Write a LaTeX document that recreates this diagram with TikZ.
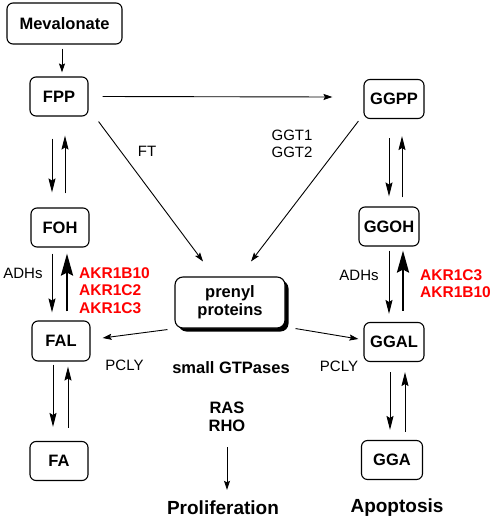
\documentclass[tikz,border=0pt]{standalone}
\usepackage{fontspec}
\setmainfont{Liberation Sans}
\usetikzlibrary{arrows.meta,shadows}
\begin{document}
\begin{tikzpicture}[x=1pt,y=-1pt,
  box/.style={draw, fill=white, rounded corners=6pt, line width=1.1pt,
    font=\fontsize{16.5}{18}\selectfont\bfseries, inner sep=0pt, minimum height=39pt},
  arr/.style={-{Stealth[length=9pt,width=6pt,inset=1.5pt]}, line width=0.9pt},
  parr/.style={-{Stealth[length=14pt,width=7pt,inset=2pt]}, line width=1pt},
  bigarr/.style={-{Stealth[length=22pt,width=12pt,inset=3pt]}, line width=2.6pt},
  lab/.style={font=\fontsize{15}{17}\selectfont, inner sep=0pt, align=center},
  akr/.style={font=\fontsize{15.5}{17.5}\selectfont\bfseries, text=red, inner sep=0pt, align=left},
  bold/.style={font=\fontsize{16.5}{18}\selectfont\bfseries, inner sep=0pt, align=center},
  outcome/.style={font=\fontsize{19}{20}\selectfont\bfseries, inner sep=0pt}
]
\useasboundingbox (0,0) rectangle (491,522);

% boxes
\node[box, minimum width=115pt, minimum height=41pt] (mev) at (64.5,23.5) {Mevalonate};
\node[box, minimum width=58pt] (fpp) at (59,96.5) {FPP};
\node[box, minimum width=58pt] (foh) at (60,227.5) {FOH};
\node[box, minimum width=58pt, minimum height=40pt] (fal) at (61,341) {FAL};
\node[box, minimum width=58pt] (fa) at (59,461) {FA};
\node[box, minimum width=60pt] (ggpp) at (394,99) {GGPP};
\node[box, minimum width=60pt] (ggoh) at (389,226.5) {GGOH};
\node[box, minimum width=60pt] (ggal) at (394,342) {GGAL};
\node[box, minimum width=61pt] (gga) at (392,460) {GGA};
\node[box, rounded corners=8pt, minimum width=110pt, minimum height=51pt, align=center,
  drop shadow={shadow xshift=3.5pt, shadow yshift=-3.5pt, fill=black, opacity=1}]
  (pp) at (230,302.5) {prenyl\\proteins};

% text labels
\node[lab] (ft) at (147,151) {FT};
\node[lab] (ggt) at (292,143.5) {GGT1\\GGT2};
\node[lab] (adhl) at (23,273) {ADHs};
\node[lab] (adhr) at (359,275) {ADHs};
\node[akr, anchor=west] (akrl) at (79,290.5) {AKR1B10\\AKR1C2\\AKR1C3};
\node[akr, anchor=west] (akrr) at (420,283.5) {AKR1C3\\AKR1B10};
\node[lab] (pclyl) at (124.5,365) {PCLY};
\node[lab] (pclyr) at (339,366) {PCLY};
\node[bold] (gtp) at (231,368) {small GTPases};
\node[bold] (ras) at (227,417) {RAS\\RHO};
\node[outcome] (prolif) at (223,508) {Proliferation};
\node[outcome] (apop) at (397,508) {Apoptosis};

% arrows
\draw[arr] ([xshift=-2.5pt,yshift=-4pt]mev.south) -- ([xshift=3pt,yshift=4pt]fpp.north);
\draw[arr] ([xshift=14pt]fpp.east) -- ([xshift=-31pt,yshift=2pt]ggpp.west);
\draw[arr] ([xshift=10pt,yshift=-5pt]fpp.south east) -- ([xshift=-27pt,yshift=15pt]pp.north);
\draw[arr] ([xshift=-5pt,yshift=-2pt]ggpp.south west) -- ([xshift=21pt,yshift=15pt]pp.north);
\draw[arr] ([xshift=-7pt,yshift=-1pt]pp.south west) -- ([xshift=12pt,yshift=3pt]fal.east);
\draw[arr] ([xshift=10pt]pp.south east) -- ([xshift=-5pt,yshift=3pt]ggal.west);
\draw[arr] ([yshift=-15pt]ras.south) -- ([xshift=4pt,yshift=11pt]prolif.north);

% FPP <-> FOH
\draw[parr] ([xshift=-7pt,yshift=-22pt]fpp.south) -- ([xshift=-8pt,yshift=15pt]foh.north);
\draw[parr] ([xshift=5pt,yshift=14pt]foh.north) -- ([xshift=6pt,yshift=-19pt]fpp.south);
% FOH <-> FAL
\draw[parr] ([xshift=-8pt,yshift=-6pt]foh.south) -- ([xshift=-9pt,yshift=8pt]fal.north);
\draw[bigarr] ([xshift=6pt,yshift=9pt]fal.north) -- ([xshift=7pt,yshift=-6pt]foh.south);
% FAL <-> FA
\draw[parr] ([xshift=-8pt,yshift=-3pt]fal.south) -- ([xshift=-6pt,yshift=14pt]fa.north);
\draw[parr] ([xshift=9pt,yshift=13pt]fa.north) -- ([xshift=7pt,yshift=-5pt]fal.south);
% GGPP <-> GGOH
\draw[parr] ([xshift=-5pt,yshift=-19pt]ggpp.south) -- ([yshift=10pt]ggoh.north);
\draw[parr] ([xshift=13pt,yshift=9pt]ggoh.north) -- ([xshift=8pt,yshift=-17pt]ggpp.south);
% GGOH <-> GGAL
\draw[parr] ([yshift=-4pt]ggoh.south) -- ([xshift=-5pt,yshift=8pt]ggal.north);
\draw[bigarr] ([xshift=9pt,yshift=11pt]ggal.north) -- ([xshift=14pt,yshift=-4pt]ggoh.south);
% GGAL <-> GGA
\draw[parr] ([xshift=-4pt,yshift=-10pt]ggal.south) -- ([xshift=-2pt,yshift=10pt]gga.north);
\draw[parr] ([xshift=13pt,yshift=8pt]gga.north) -- ([xshift=11pt,yshift=-10pt]ggal.south);
\end{tikzpicture}
\end{document}
